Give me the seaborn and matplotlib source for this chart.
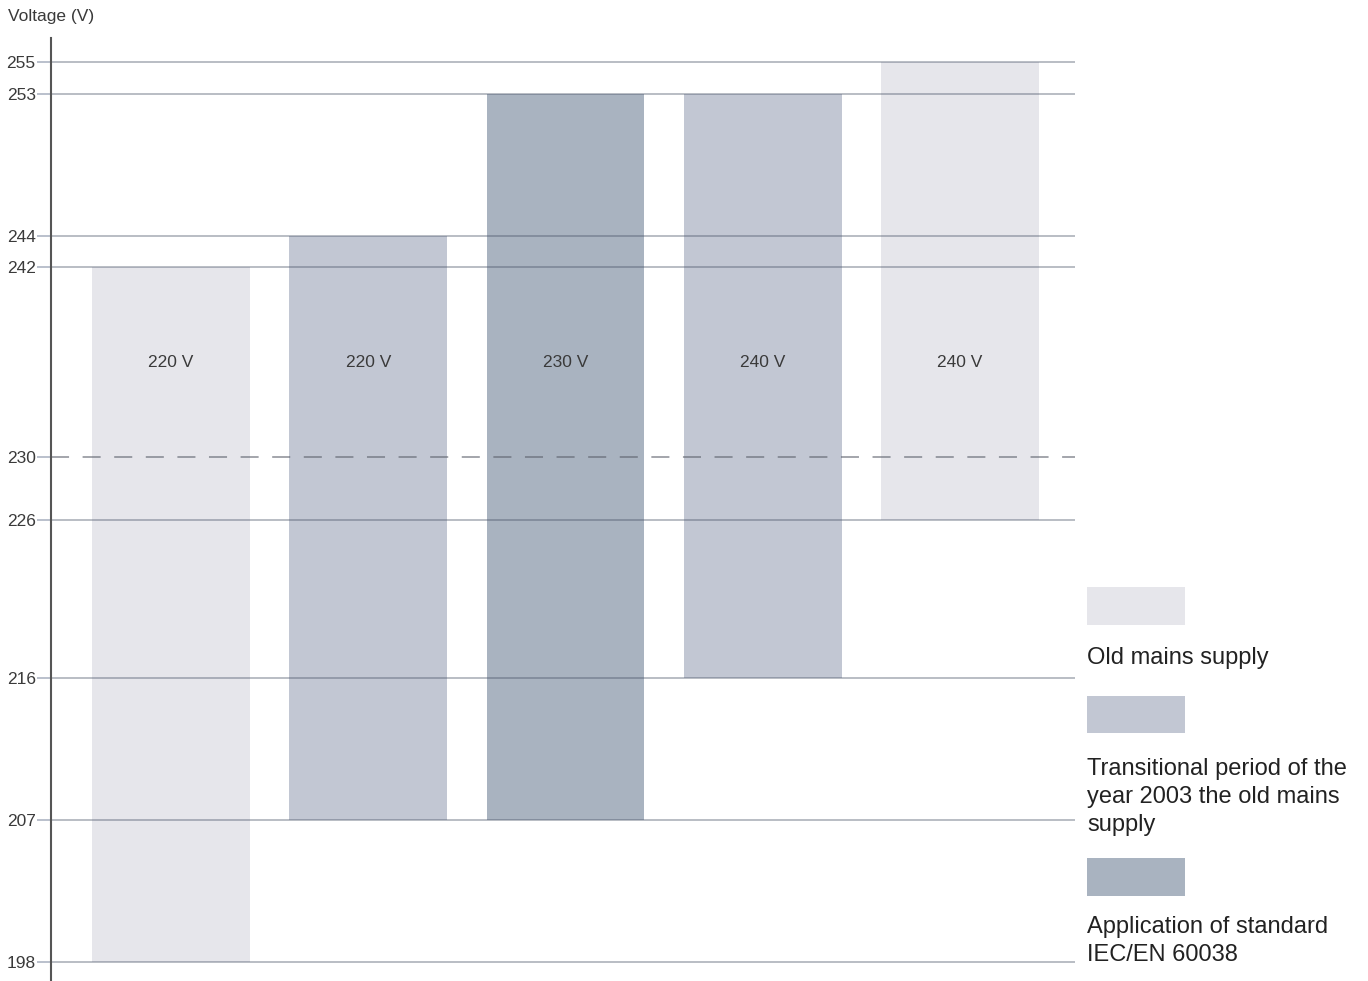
import matplotlib
matplotlib.use("Agg")
import matplotlib.pyplot as plt
from matplotlib.patches import Rectangle
import seaborn as sns
import pandas as pd

# ---- data ----
bar_labels = ["220 V", "220 V", "230 V", "240 V", "240 V"]
low_values = [198, 207, 207, 216, 226]
high_values = [242, 244, 253, 253, 255]
bar_kinds = ["old", "transition", "standard", "transition", "old"]
tick_values = [198, 207, 216, 226, 230, 242, 244, 253, 255]
solid_lines = [198, 207, 216, 226, 242, 244, 253, 255]
reference_line = 230
label_level = 236
legend_keys = ["old", "transition", "standard"]
legend_texts = ["Old mains supply",
                "Transitional period of the\nyear 2003 the old mains\nsupply",
                "Application of standard\nIEC/EN 60038"]
kind_colors = {"old": "#E6E6EB", "transition": "#C2C7D3", "standard": "#A9B3C0"}

sns.set_theme(style="white")
plt.rcParams["font.family"] = ["Liberation Sans", "DejaVu Sans"]

df = pd.DataFrame({
    "pos": list(range(len(bar_labels))),
    "span": [h - l for h, l in zip(high_values, low_values)],
    "low": low_values,
    "kind": bar_kinds,
})

fig = plt.figure(figsize=(13.68, 9.81), dpi=100)
ax = fig.add_axes([51 / 1368, 0.0, (1075 - 51) / 1368, 1 - 38 / 981])

sns.barplot(data=df, x="pos", y="span", bottom=df["low"].values, color="#cccccc",
            width=0.8, errorbar=None, linewidth=0, ax=ax, zorder=1)
for patch, kind in zip(ax.patches, df["kind"]):
    patch.set_facecolor(kind_colors[kind])
    patch.set_edgecolor("none")

for v in solid_lines:
    ax.axhline(v, color="#4A5468", alpha=0.42, lw=1.3, zorder=3)
ax.axhline(reference_line, color="#5A5F6A", alpha=0.6, lw=1.3,
           dashes=(10, 7.5), zorder=3)

for i, lab in enumerate(bar_labels):
    ax.text(df["pos"][i], label_level, lab, ha="center", va="center",
            fontsize=12.5, color="#3A3A3A", zorder=4)

ax.set_xlim(-0.608, 4.583)
ax.set_ylim(198 - 19 / 15.789, 255 + 24 / 15.789)
ax.set_yticks(tick_values)
ax.set_yticklabels([str(t) for t in tick_values], fontsize=12.5, color="#3A3A3A")
ax.tick_params(axis="y", length=10, width=1.2, color="#AEB5C4", pad=1, left=True)
ax.set_xticks([])
ax.set_xlabel("")
ax.set_ylabel("")
for s in ["top", "right", "bottom"]:
    ax.spines[s].set_visible(False)
ax.spines["left"].set_color("#555555")
ax.spines["left"].set_linewidth(1.5)
ax.spines["left"].set_zorder(5)

fig.text(8 / 1368, 1 - 17 / 981, "Voltage (V)", ha="left", va="center",
         fontsize=12.5, color="#3A3A3A")

# legend
rects_y = [(587, 625), (696, 733), (858, 896)]
text_top = [651, 762, 920]
for key, (y0, y1), txt, tt in zip(legend_keys, rects_y, legend_texts, text_top):
    fig.add_artist(Rectangle((1087 / 1368, 1 - y1 / 981), 98 / 1368, (y1 - y0) / 981,
                             transform=fig.transFigure, facecolor=kind_colors[key],
                             edgecolor="none"))
    fig.text(1087 / 1368, 1 - (tt - 4) / 981, txt, ha="left", va="top",
             fontsize=17, color="#222222", linespacing=1.36)

fig.savefig("out.png", dpi=100)
